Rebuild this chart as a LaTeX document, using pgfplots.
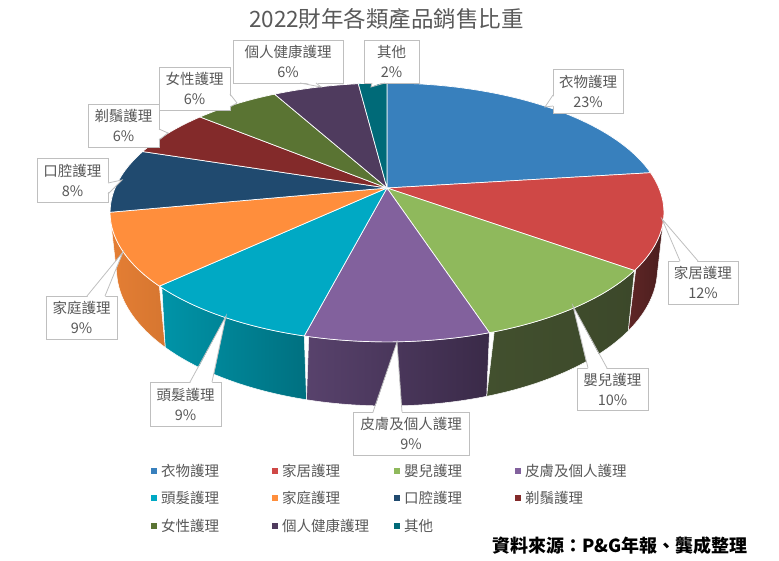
\documentclass[border=0pt]{standalone}
\usepackage{fontspec}
\setmainfont{Noto Sans CJK TC}
\usepackage{pgfplots}
\pgfplotsset{compat=1.18}

\definecolor{c1}{RGB}{56,128,189}
\definecolor{c2}{RGB}{207,72,70}
\definecolor{c3}{RGB}{143,185,92}
\definecolor{c4}{RGB}{130,97,157}
\definecolor{c5}{RGB}{0,169,196}
\definecolor{c6}{RGB}{255,142,60}
\definecolor{c7}{RGB}{32,74,111}
\definecolor{c8}{RGB}{131,42,42}
\definecolor{c9}{RGB}{90,116,51}
\definecolor{c10}{RGB}{79,59,94}
\definecolor{c11}{RGB}{0,106,120}
\definecolor{s2a}{RGB}{95,38,38}\definecolor{s2b}{RGB}{75,30,30}
\definecolor{s3a}{RGB}{66,80,46}\definecolor{s3b}{RGB}{60,72,42}
\definecolor{s4a}{RGB}{88,66,108}\definecolor{s4b}{RGB}{58,42,72}
\definecolor{s5a}{RGB}{0,148,168}\definecolor{s5b}{RGB}{0,112,128}
\definecolor{s6a}{RGB}{228,126,52}\definecolor{s6b}{RGB}{214,118,48}
\definecolor{boxgray}{RGB}{191,191,191}
\definecolor{labgray}{RGB}{89,89,89}

\tikzset{declare function={
  zc(\pa,\pz) = 4.70 + cos(\pa)*0.888 - \pz*0.459;
  px(\pa,\pz) = 387 + 1278*sin(\pa)/zc(\pa,\pz);
  py(\pa,\pz) = 188 - 1278*(cos(\pa)*0.459 + \pz*0.888)/zc(\pa,\pz);
  sa(\pt,\pa,\pb) = (\pt<1) ? (\pa+(\pb-\pa)*\pt) : (\pb-(\pb-\pa)*(\pt-1));
  sz(\pt) = (\pt<1) ? 0 : -0.236;
}}

% top face of a slice: start %, end %, colour
\newcommand\topslice[3]{%
  \addplot[fill=#3, draw=white, line width=0.7pt, domain=#1*3.6:#2*3.6, samples=60, variable=\t]
    ({px(\t,0)},{py(\t,0)}) -- (axis cs:387,188) -- cycle;}
% front side of a slice: start deg, end deg, left colour, right colour
\newcommand\sideslice[4]{%
  \addplot[left color=#3, right color=#4, draw=white, line width=0.5pt, domain=0:2, samples=81, variable=\t]
    ({px(sa(\t,#1,#2),sz(\t))},{py(sa(\t,#1,#2),sz(\t))}) -- cycle;}
% label: box x1,y1,x2,y2 ; text
\newcommand\lbl[5]{%
  \draw[boxgray, fill=white, line width=0.8pt] (axis cs:#1,#2) rectangle (axis cs:#3,#4);
  \node[align=center, text=labgray, font=\fontsize{14.5}{20}\selectfont, inner sep=0pt]
    at (axis cs:{(#1+#3)/2},{(#2+#4)/2}) {#5};}
\newcommand\tail[8]{% b1x b1y b2x b2y tipx tipy inward dx dy
  \fill[white] (axis cs:{#1+#7},{#2+#8}) -- (axis cs:#5,#6) -- (axis cs:{#3+#7},{#4+#8}) -- cycle;
  \draw[boxgray, line width=0.8pt] (axis cs:#1,#2) -- (axis cs:#5,#6) -- (axis cs:#3,#4);}
\newcommand\leg[3]{% x y colour
  \fill[#3] (axis cs:#1,{#2-3}) rectangle (axis cs:{#1+6},{#2+3});}

\begin{document}
\begin{tikzpicture}
\begin{axis}[scale only axis, width=779pt, height=561pt,
  xmin=0, xmax=779, ymin=0, ymax=561, y dir=reverse,
  hide axis, clip=false]
\path (axis cs:0,0) rectangle (axis cs:779,561);

% sides (front, visible part)
\sideslice{103.86}{126}{s2a}{s2b}
\sideslice{126}{162}{s3a}{s3b}
\sideslice{162}{194.4}{s4a}{s4b}
\sideslice{194.4}{226.8}{s5a}{s5b}
\sideslice{226.8}{256.14}{s6a}{s6b}

% top faces: data 23,12,10,9,9,9,8,6,6,6,2 (%)
\topslice{0}{23}{c1}
\topslice{23}{35}{c2}
\topslice{35}{45}{c3}
\topslice{45}{54}{c4}
\topslice{54}{63}{c5}
\topslice{63}{72}{c6}
\topslice{72}{80}{c7}
\topslice{80}{86}{c8}
\topslice{86}{92}{c9}
\topslice{92}{98}{c10}
\topslice{98}{100}{c11}

% labels
\lbl{553}{69}{623}{113}{衣物護理\\23\%}
\tail{553}{95}{553}{106}{545}{107}{1.5}{0}
\lbl{668}{261}{738}{304}{家居護理\\12\%}
\tail{680}{261}{698}{261}{662}{219}{0}{1.5}
\lbl{577}{368}{648}{410}{嬰兒護理\\10\%}
\tail{588}{368}{607}{368}{573}{306}{0}{1.5}
\lbl{353}{412}{469}{455}{皮膚及個人護理\\9\%}
\tail{373}{412}{402}{412}{397}{342}{0}{1.5}
\lbl{150}{382}{221}{426}{頭髮護理\\9\%}
\tail{190}{382}{212}{382}{226}{316}{0}{1.5}
\lbl{46}{296}{117}{339}{家庭護理\\9\%}
\tail{87}{296}{105}{296}{123}{252}{0}{1.5}
\lbl{37}{158}{108}{202}{口腔護理\\8\%}
\tail{108}{183}{108}{194}{122}{180}{-1.5}{0}
\lbl{88}{104}{159}{147}{剃鬚護理\\6\%}
\tail{159}{129}{159}{140}{168}{133}{-1.5}{0}
\lbl{159}{67}{230}{110}{女性護理\\6\%}
\tail{230}{94}{230}{107}{237}{103}{-1.5}{0}
\lbl{233}{40}{343}{83}{個人健康護理\\6\%}
\tail{300}{83}{316}{83}{321}{87}{0}{-1.5}
\lbl{364}{40}{419}{83}{其他\\2\%}
\tail{372}{83}{385}{83}{371}{87}{0}{-1.5}

% title
\node[text=labgray, font=\fontsize{22.5}{26}\selectfont, inner sep=0pt] at (axis cs:386.5,18.5) {2022財年各類產品銷售比重};

% legend
\leg{151}{471}{c1}\leg{272}{471}{c2}\leg{394}{471}{c3}\leg{515}{471}{c4}
\leg{151}{498}{c5}\leg{272}{498}{c6}\leg{394}{498}{c7}\leg{515}{498}{c8}
\leg{151}{526}{c9}\leg{272}{526}{c10}\leg{394}{526}{c11}
\begin{scope}[every node/.style={anchor=west, text=labgray, font=\fontsize{14.5}{17}\selectfont, inner sep=0pt}]
\node at (axis cs:161,471) {衣物護理};
\node at (axis cs:282,471) {家居護理};
\node at (axis cs:404,471) {嬰兒護理};
\node at (axis cs:525,471) {皮膚及個人護理};
\node at (axis cs:161,498) {頭髮護理};
\node at (axis cs:282,498) {家庭護理};
\node at (axis cs:404,498) {口腔護理};
\node at (axis cs:525,498) {剃鬚護理};
\node at (axis cs:161,526) {女性護理};
\node at (axis cs:282,526) {個人健康護理};
\node at (axis cs:404,526) {其他};
\end{scope}
\node[anchor=east, font=\fontsize{18}{22}\selectfont\bfseries, inner sep=0pt] at (axis cs:748,546) {資料來源：P\&G年報、龔成整理};
\end{axis}
\end{tikzpicture}
\end{document}
